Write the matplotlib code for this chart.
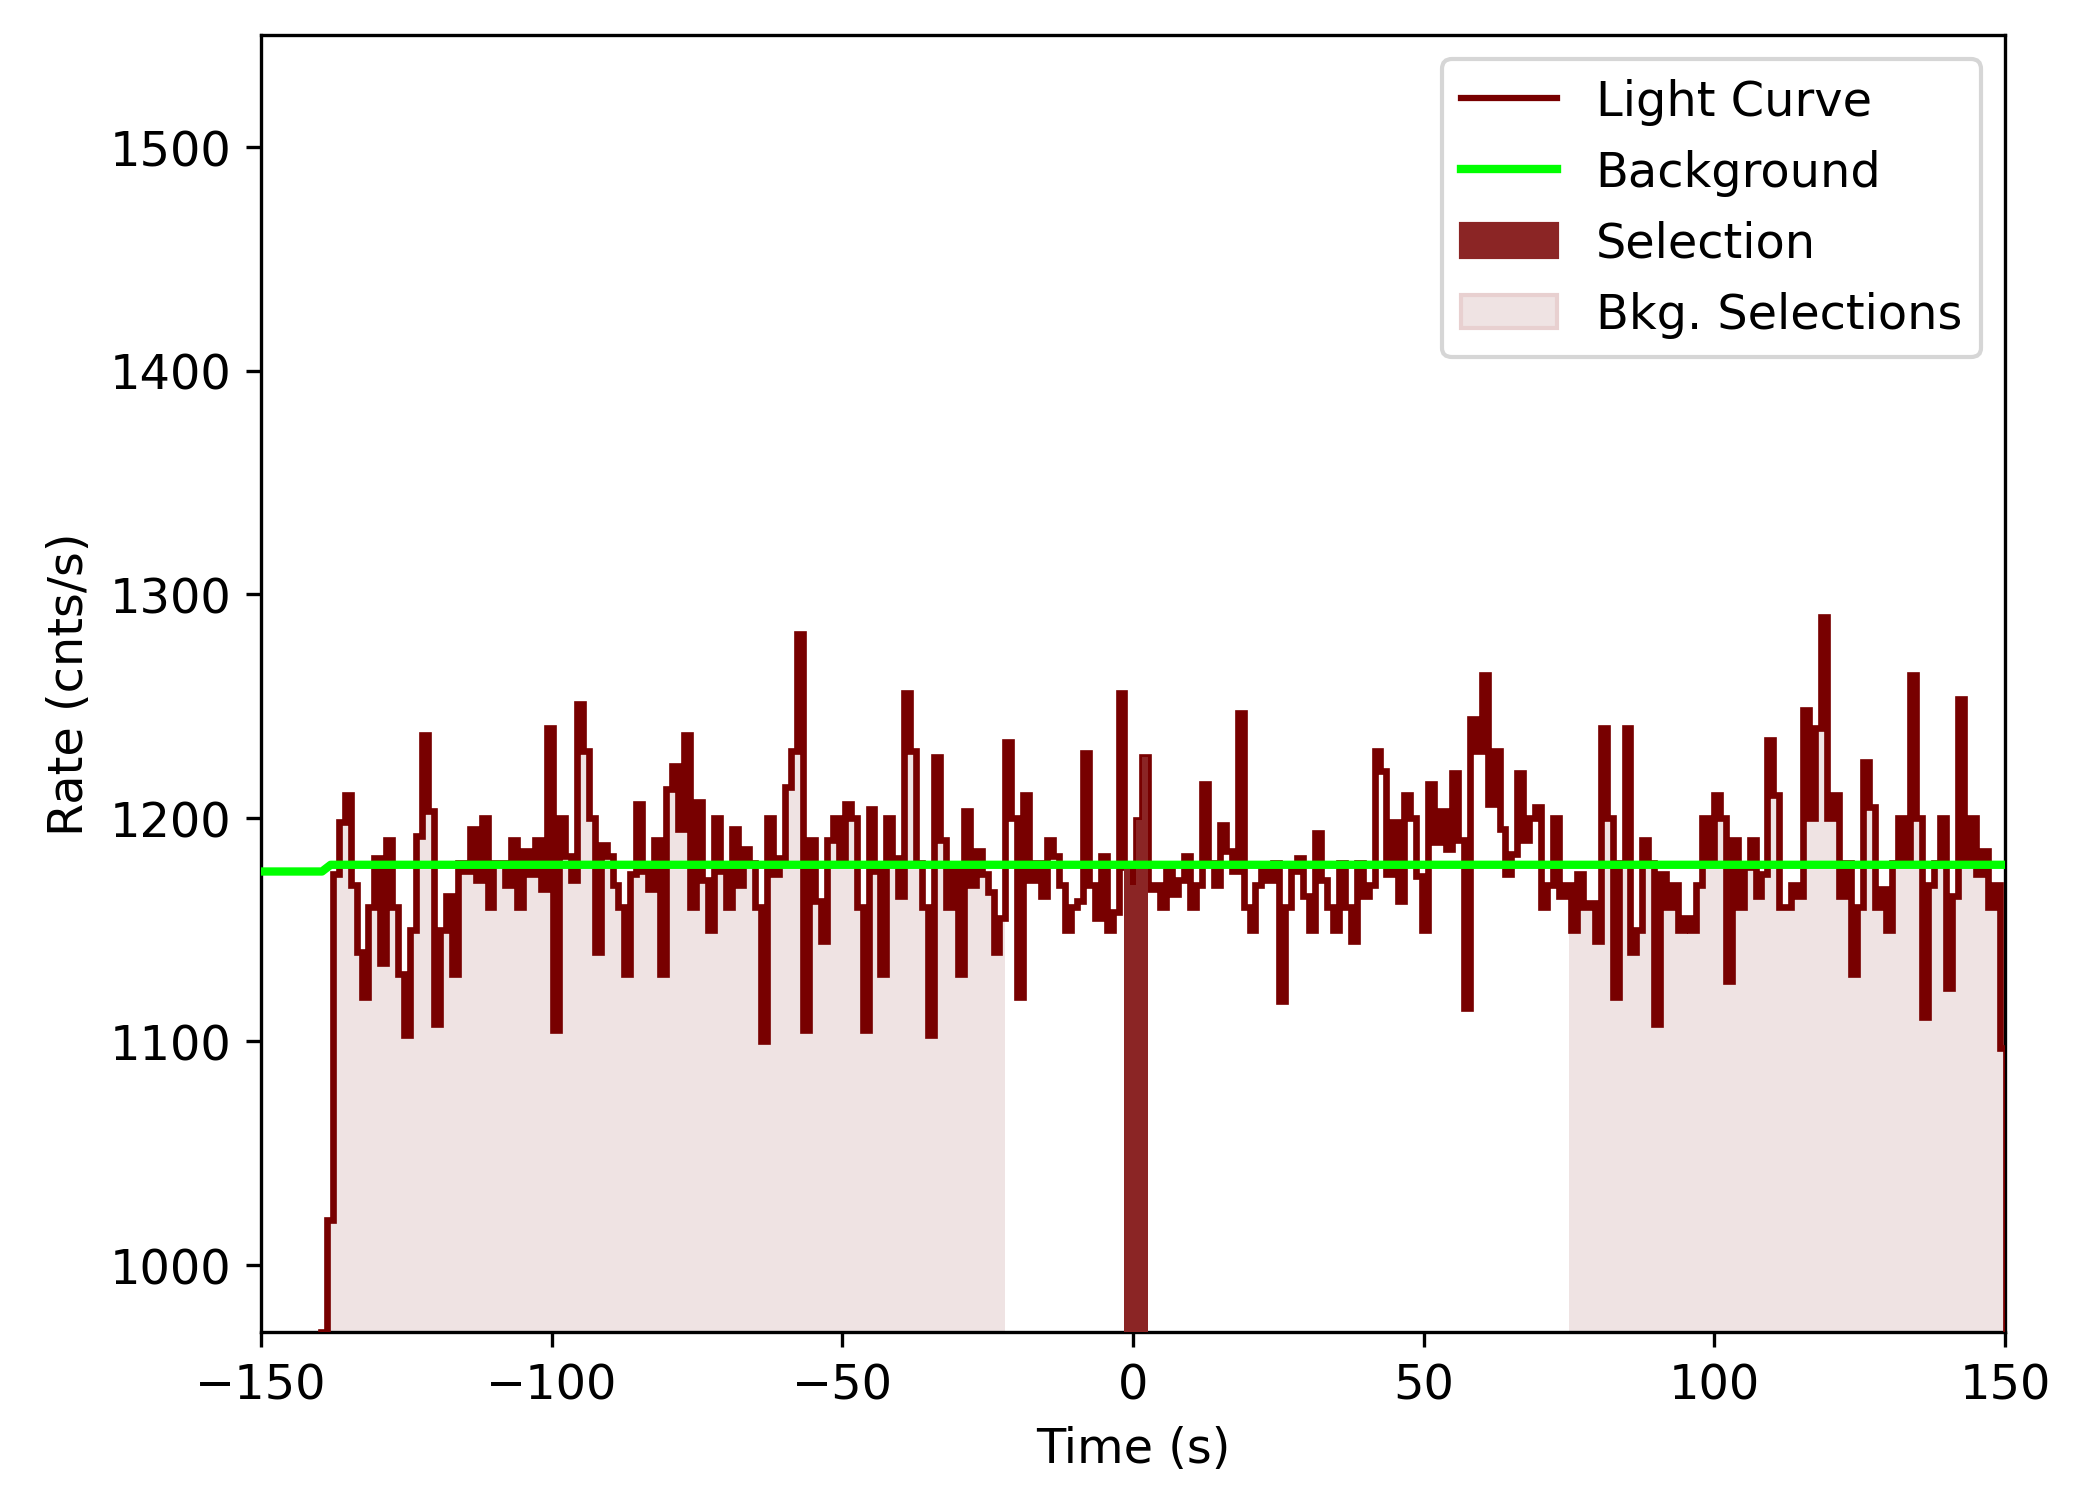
import matplotlib
matplotlib.use("Agg")
import matplotlib.pyplot as plt
import numpy as np
from matplotlib.patches import Patch
from matplotlib.lines import Line2D

bin_width = 1.024
t_start = -139.7
rates = [
 970, 1020, 1175, 1198, 1210, 1170, 1140, 1120, 1160, 1182,
 1135, 1190, 1160, 1130, 1103, 1150, 1192, 1237, 1203, 1108,
 1150, 1165, 1130, 1180, 1176, 1195, 1172, 1200, 1160, 1180,
 1180, 1170, 1190, 1160, 1185,
 1175, 1190, 1168, 1240, 1105, 1200, 1183, 1172, 1251, 1230,
 1200, 1140, 1188, 1183, 1170, 1160, 1130, 1175, 1206, 1176,
 1168, 1190, 1130, 1213, 1223, 1195, 1237, 1160, 1207, 1172,
 1150, 1200, 1176, 1160, 1195, 1170, 1186, 1180, 1160, 1100,
 1200, 1175, 1182, 1214, 1230, 1282, 1105, 1190, 1163, 1145,
 1190, 1200, 1180, 1206, 1200, 1160, 1105, 1204, 1176, 1130,
 1200, 1182, 1165, 1256, 1230, 1180, 1160, 1103, 1227, 1190,
 1160, 1177, 1130, 1203, 1170, 1185, 1175, 1167, 1140, 1155,
 1234, 1200, 1120, 1210, 1172, 1180, 1165, 1190, 1183, 1170,
 1150, 1160, 1163, 1229, 1170, 1155, 1183,
 1150, 1158, 1256, 1178, 1170, 1199, 1227, 1168,
 1170, 1160, 1176, 1166, 1172, 1183, 1160, 1170, 1215, 1180,
 1170, 1197, 1185, 1176, 1247, 1160, 1150, 1170, 1177, 1172,
 1180, 1118, 1160, 1176, 1182, 1165, 1150, 1193, 1172, 1160,
 1150, 1180, 1160, 1145, 1180, 1165, 1170, 1230, 1221, 1175,
 1198, 1163, 1210, 1200, 1174, 1150, 1215, 1189, 1203, 1186,
 1220, 1190, 1115, 1244, 1230, 1264, 1206, 1230,
 1195, 1175, 1184, 1220, 1190, 1200, 1205, 1160, 1170, 1200,
 1165, 1170, 1150, 1175, 1160, 1162, 1145, 1240, 1200, 1120,
 1180, 1240, 1140, 1150, 1190, 1180, 1108, 1175, 1160, 1170,
 1150, 1155, 1150, 1170, 1200, 1180, 1210, 1200,
 1127, 1190, 1160, 1178, 1190, 1165, 1175, 1235, 1210, 1160,
 1160, 1170, 1165, 1248, 1200, 1240, 1290,
 1200, 1210, 1165, 1180, 1130, 1160, 1225, 1205, 1160, 1168,
 1150, 1180, 1200, 1180, 1264, 1200, 1111, 1170, 1180, 1200,
 1124, 1165, 1253, 1180, 1200, 1175, 1185, 1160, 1170, 1097,
]
bkg_level = [1176, 1179]
bkg_ranges = [(-139.0, -22.0), (75.0, 150.0)]
sel_range = (-1.0, 2.5)

rates = np.array(rates, dtype=float)
edges = t_start + bin_width * np.arange(len(rates) + 1)

fig = plt.figure(figsize=(6.923, 5.043), dpi=300)
ax = fig.add_axes([196/1560, 1-1001/1136, 1310/1560, 974/1136])

for a, b in bkg_ranges:
    m = (edges[:-1] >= a - 1.0) & (edges[:-1] <= b)
    e = edges[:-1][m]
    x = np.clip(np.append(e, e[-1] + bin_width), a, b)
    ax.fill_between(x, np.append(rates[m], rates[m][-1]), 0, step="post",
                    color="#efe3e3", lw=0, zorder=1)
ax.stairs(rates, edges, color="#780000", lw=1.6, zorder=3)
m = (edges[:-1] >= sel_range[0] - 0.6) & (edges[1:] <= sel_range[1] + 0.6)
e = edges[:-1][m]
ax.fill_between(np.append(e, e[-1] + bin_width), np.append(rates[m], rates[m][-1]), 0,
                step="post", color="#8b2525", lw=0, zorder=4)

bx = [-150, -139.5, -138, 150]
by = [bkg_level[0], bkg_level[0], bkg_level[1], bkg_level[1]]
ax.plot(bx, by, color="#00ff00", lw=2, zorder=5)

handles = [Line2D([], [], color="#780000", lw=1.5),
           Line2D([], [], color="#00ff00", lw=2),
           Patch(color="#8b2525"),
           Patch(facecolor="#efe3e3", edgecolor="#e8d0d0")]
ax.legend(handles, ["Light Curve", "Background", "Selection", "Bkg. Selections"],
          loc="upper right", fontsize=11.5)
ax.set_xlim(-150, 150)
ax.set_ylim(970, 1550)
ax.set_xlabel("Time (s)", fontsize=11.5)
ax.set_ylabel("Rate (cnts/s)", fontsize=11.5)
ax.tick_params(labelsize=11.5)
fig.savefig("out.png", dpi=300)
